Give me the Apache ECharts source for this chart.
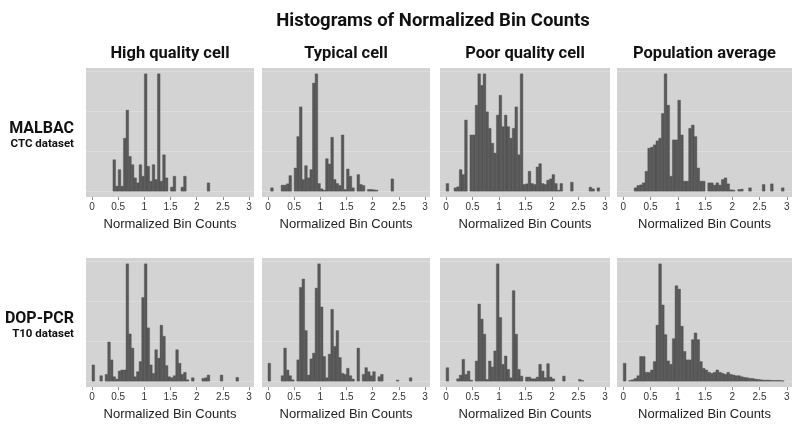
<!DOCTYPE html>
<html><head><meta charset="utf-8">
<script src="https://cdn.jsdelivr.net/npm/echarts@6/dist/echarts.min.js"></script>
<style>html,body{margin:0;padding:0;background:#fff}#c{width:800px;height:425px}</style>
</head><body><div id="c"></div>
<script>
// ---------- data ----------
const mainTitle = 'Histograms of Normalized Bin Counts';
const colTitles = ['High quality cell', 'Typical cell', 'Poor quality cell', 'Population average'];
const rowTitles = ['MALBAC', 'DOP-PCR'];
const rowSubtitles = ['CTC dataset', 'T10 dataset'];
const axisTitle = 'Normalized Bin Counts';
const xTicks = [0, 0.5, 1, 1.5, 2, 2.5, 3];
const binWidth = 0.05; // bins start at 0

// counts per bin (bin k covers [k*0.05, (k+1)*0.05))
const malbacHigh = [0,0,0,0,0,0,0,0,95,15, 65,15,160,245,105,80,40,25,80,45, 355,75,30,80,35,355,30,110,40,0, 12,45,0,0,12,45,0,0,0,0, 0,0,0,0,25,0,0,0,0,0, 0,0,0,0,0,0,0,0,0,0];
const malbacTypical = [0,10,0,0,0,18,18,22,47,0, 70,165,255,35,77,40,65,327,355,23, 7,3,98,82,163,35,23,17,170,5, 67,45,10,0,50,20,17,0,5,5, 4,3,0,0,0,0,0,37,0,0, 0,0,0,0,0,0,0,0,0,0];
const malbacPoor = [23,0,0,10,13,65,50,215,0,170, 170,260,355,320,355,240,190,145,115,230, 290,195,230,195,160,190,255,110,355,20, 22,60,23,20,73,83,23,20,33,37, 50,23,3,23,0,0,0,27,0,0, 0,0,0,0,12,7,0,10,0,0];
const malbacPopulation = [0,0,0,0,10,17,19,25,60,130, 133,140,152,160,235,355,260,45,155,155, 275,170,30,30,190,200,165,70,30,30, 0,25,25,18,25,18,35,40,22,4, 3,0,5,6,0,0,10,0,0,0, 0,20,0,0,22,0,0,0,10,0];
const dopHigh = [48,0,0,16,0,20,116,63,13,6, 30,33,33,348,140,98,13,28,58,248, 348,158,48,23,93,68,166,133,46,13, 10,16,93,53,20,26,4,0,10,0, 0,0,8,10,18,0,0,0,0,18, 0,0,0,0,0,11,0,0,0,0];
const dopTypical = [53,0,0,0,0,16,98,33,16,4, 0,63,278,303,150,18,66,83,276,348, 220,73,10,80,213,103,150,70,23,20, 38,16,6,0,98,0,20,40,28,16, 28,0,13,20,0,0,0,0,0,3, 0,0,0,0,10,0,0,0,0,0];
const dopPoor = [40,0,0,0,7,18,65,20,30,3, 0,60,230,185,140,5,60,42,90,350, 190,50,75,35,10,270,140,35,15,0, 12,12,7,7,12,50,30,10,52,12, 7,0,0,0,15,0,0,0,0,0, 5,2,0,0,0,0,0,0,0,0];
const dopPopulation = [53,0,2,4,8,16,73,73,26,26, 33,58,166,348,226,138,60,50,126,283, 273,163,88,63,63,123,143,123,58,38, 33,26,23,26,33,26,23,20,26,20, 18,16,16,13,11,10,8,8,6,5, 4,3,3,3,2,2,2,2,1,0];

const panelData = [malbacHigh, malbacTypical, malbacPoor, malbacPopulation,
                   dopHigh, dopTypical, dopPoor, dopPopulation];
const gridLevels = [0, 0.34, 0.68, 1.02];

// ---------- layout ----------
const colLeft = [86, 262, 440, 617];
const colWidth = [168, 168, 170, 175];
const rowTop = [68, 258];
const rowHeight = 129;
const X_MIN = -0.115, X_MAX = 3.095;
const BG = '#d3d3d3', BAR = '#595959';
const sans = "'Liberation Sans', Arial, sans-serif";
const head = "Roboto, 'Open Sans', sans-serif";

function renderBar(params, api) {
  const a = api.coord([api.value(0), api.value(2)]);
  const b = api.coord([api.value(1), 0]);
  return { type: 'rect',
    shape: { x: a[0], y: a[1], width: b[0] - a[0], height: b[1] - a[1] },
    style: { fill: BAR, stroke: '#4c4c4c', lineWidth: 0.4 } };
}

const grid = [], xAxis = [], yAxis = [], series = [];
panelData.forEach((arr, i) => {
  const r = Math.floor(i / 4), c = i % 4;
  grid.push({ left: colLeft[c], top: rowTop[r], width: colWidth[c], height: rowHeight,
    show: true, backgroundColor: BG, borderWidth: 0 });
  xAxis.push({ type: 'value', gridIndex: i, min: X_MIN, max: X_MAX,
    axisLine: { show: false, onZero: false },
    axisTick: { show: true, customValues: xTicks, length: 3, lineStyle: { color: '#8a8a8a' } },
    axisLabel: { customValues: xTicks, fontSize: 10, color: '#333', margin: 5, fontFamily: sans },
    splitLine: { show: false },
    name: axisTitle, nameLocation: 'middle', nameGap: 21,
    nameTextStyle: { fontSize: 13, color: '#222', fontFamily: sans } });
  yAxis.push({ type: 'value', gridIndex: i, min: -0.05, max: 1.05, show: false });
  const mx = Math.max.apply(null, arr);
  const d = [];
  arr.forEach((v, k) => { if (v > 0) d.push([k * binWidth, (k + 1) * binWidth, v / mx]); });
  series.push({ type: 'custom', xAxisIndex: i, yAxisIndex: i, z: 1, silent: true, data: [],
    renderItem: () => null,
    markLine: { z: 1, silent: true, symbol: 'none', label: { show: false }, animation: false,
      lineStyle: { color: '#dcdcdc', type: 'solid', width: 1 },
      data: gridLevels.map(g => ({ yAxis: g })) } });
  series.push({ type: 'custom', xAxisIndex: i, yAxisIndex: i, z: 10, silent: true,
    renderItem: renderBar, encode: { x: [0, 1], y: 2 }, data: d });
});

const graphic = [];
function txt(s, x, y, size, weight, align, family, color) {
  graphic.push({ type: 'text', x: x, y: y, silent: true,
    style: { text: s, fontSize: size, fontWeight: weight, fontFamily: family, fill: color || '#111',
      align: align, verticalAlign: 'middle', textAlign: align, textVerticalAlign: 'middle' } });
}
txt(mainTitle, 433, 21, 18.5, 'bold', 'center', head);
colTitles.forEach((t, c) => txt(t, colLeft[c] + colWidth[c] / 2, 54, 16.5, 'bold', 'center', head));
rowTitles.forEach((t, r) => {
  txt(t, 74, rowTop[r] + 61, 16, 'bold', 'right', head);
  txt(rowSubtitles[r], 74, rowTop[r] + 76, 11.5, 'bold', 'right', head);
});

const chart = echarts.init(document.getElementById('c'), null, { renderer: 'canvas' });
chart.setOption({ animation: false, backgroundColor: '#fff', grid, xAxis, yAxis, series, graphic });
</script></body></html>
